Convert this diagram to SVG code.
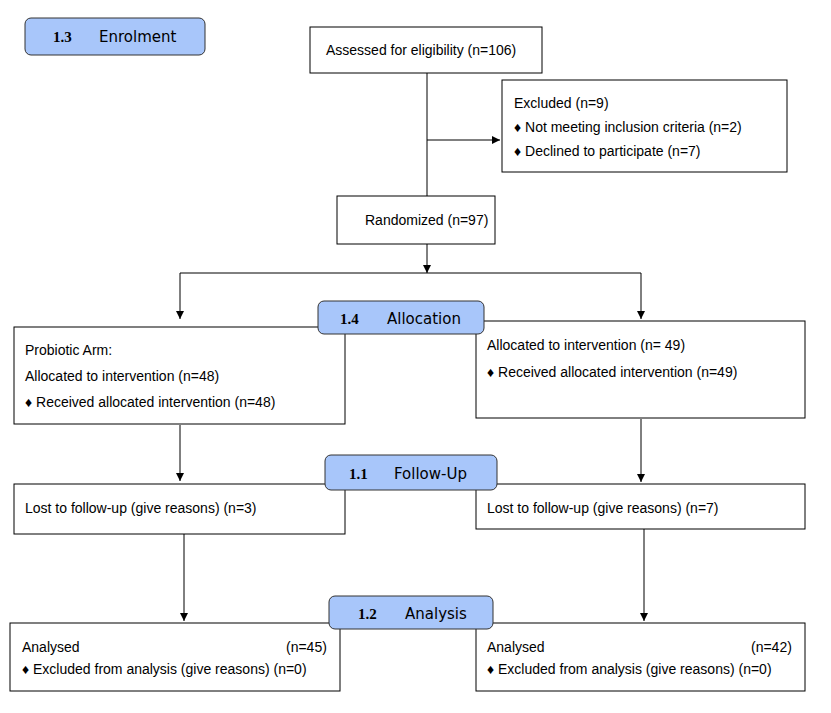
<svg xmlns="http://www.w3.org/2000/svg" width="831" height="713" viewBox="0 0 831 713">
<style>
.b{fill:#fff;stroke:#000;stroke-width:1}
.h{fill:#a8c6fa;stroke:#333;stroke-width:1}
.t{font-family:"Liberation Sans",Arial,sans-serif;font-size:14px;fill:#000}
.n{font-family:"Liberation Serif",serif;font-size:15px;font-weight:bold;fill:#000}
.v{font-family:"DejaVu Sans",Verdana,sans-serif;font-size:15px;fill:#000}
.c{fill:none;stroke:#000;stroke-width:1}
</style>
<defs><marker id="a" markerWidth="8" markerHeight="8" refX="8" refY="4" orient="auto" markerUnits="userSpaceOnUse"><path d="M0,0L8,4L0,8z" fill="#000"/></marker></defs>
<rect width="831" height="713" fill="#fff"/>
<g id="connectors">
<path class="c" d="M427,73V196"/>
<path class="c" d="M427,140H500" marker-end="url(#a)"/>
<path class="c" d="M427,244V273" marker-end="url(#a)"/>
<path class="c" d="M180,273H641"/>
<path class="c" d="M180,273V319" marker-end="url(#a)"/>
<path class="c" d="M641,273V319" marker-end="url(#a)"/>
<path class="c" d="M180,425V481" marker-end="url(#a)"/>
<path class="c" d="M641,419V482" marker-end="url(#a)"/>
<path class="c" d="M184,534V621" marker-end="url(#a)"/>
<path class="c" d="M644,529V621" marker-end="url(#a)"/>
</g>
<g id="enrolment"><rect class="h" x="25" y="18" width="180" height="37" rx="6"/><text class="n" x="53" y="42">1.3</text><text class="v" x="99" y="42">Enrolment</text></g>
<g id="assessed"><rect class="b" x="310" y="27" width="232" height="46"/><text class="t" x="326" y="55">Assessed for eligibility (n=106)</text></g>
<g id="excluded"><rect class="b" x="502" y="80" width="285" height="92"/><text class="t" x="514" y="108">Excluded (n=9)</text><text class="t" x="514" y="132">♦  Not meeting inclusion criteria (n=2)</text><text class="t" x="514" y="156">♦  Declined to participate (n=7)</text></g>
<g id="randomized"><rect class="b" x="337" y="196" width="158" height="48"/><text class="t" x="365" y="225">Randomized (n=97)</text></g>
<g id="probiotic"><rect class="b" x="14" y="327" width="331" height="97"/><text class="t" x="25" y="355">Probiotic Arm:</text><text class="t" x="25" y="381">Allocated to intervention (n=48)</text><text class="t" x="25" y="407">♦ Received allocated intervention (n=48)</text></g>
<g id="control"><rect class="b" x="476" y="321" width="329" height="97"/><text class="t" x="487" y="350">Allocated to intervention (n= 49)</text><text class="t" x="487" y="377">♦ Received allocated intervention (n=49)</text></g>
<g id="allocation"><rect class="h" x="318" y="301" width="166" height="33" rx="6"/><text class="n" x="340" y="324">1.4</text><text class="v" x="387" y="324">Allocation</text></g>
<g id="lost1"><rect class="b" x="14" y="484" width="331" height="50"/><text class="t" x="25" y="513">Lost to follow-up (give reasons) (n=3)</text></g>
<g id="lost2"><rect class="b" x="476" y="484" width="329" height="45"/><text class="t" x="487" y="513">Lost to follow-up (give reasons) (n=7)</text></g>
<g id="followup"><rect class="h" x="325" y="455" width="172" height="35" rx="6"/><text class="n" x="349" y="479">1.1</text><text class="v" x="394" y="479">Follow-Up</text></g>
<g id="analysed1"><rect class="b" x="10" y="623" width="330" height="68"/><text class="t" x="22" y="652">Analysed</text><text class="t" x="286" y="652">(n=45)</text><text class="t" x="22" y="674">♦ Excluded from analysis (give reasons) (n=0)</text></g>
<g id="analysed2"><rect class="b" x="476" y="623" width="329" height="68"/><text class="t" x="487" y="652">Analysed</text><text class="t" x="751" y="652">(n=42)</text><text class="t" x="487" y="674">♦ Excluded from analysis (give reasons) (n=0)</text></g>
<g id="analysis"><rect class="h" x="329" y="596" width="164" height="33" rx="6"/><text class="n" x="358" y="619">1.2</text><text class="v" x="405" y="619">Analysis</text></g>
</svg>
